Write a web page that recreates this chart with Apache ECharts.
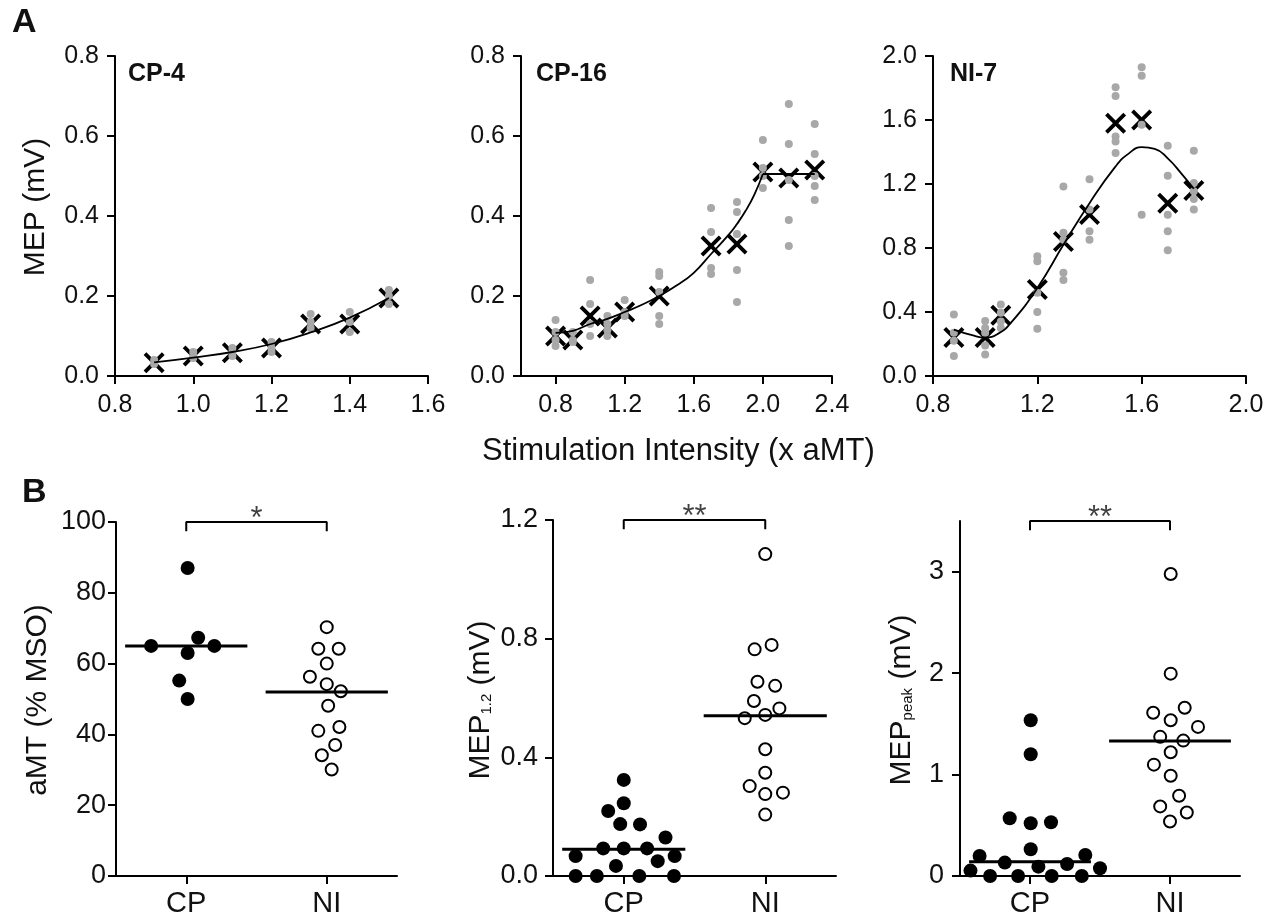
<!DOCTYPE html>
<html><head><meta charset="utf-8">
<script src="https://cdn.jsdelivr.net/npm/echarts/dist/echarts.min.js"></script>
<style>html,body{margin:0;padding:0;background:#fff}#c{width:1270px;height:918px}</style>
</head><body><div id="c"></div>
<script>
// ---------------- Panel A data ----------------
const cp4Intensity = [0.9, 1.0, 1.1, 1.2, 1.3, 1.4, 1.5];
const cp4Mean = [0.033, 0.05, 0.058, 0.07, 0.13, 0.13, 0.195];
const cp4Trials = [[0.03, 0.04], [0.05, 0.06, 0.045], [0.06, 0.07, 0.05], [0.085, 0.06, 0.07], [0.155, 0.135, 0.12], [0.16, 0.135, 0.11], [0.215, 0.18, 0.2]];
const cp4FitX = [0.9, 1.0, 1.1, 1.2, 1.3, 1.4, 1.5];
const cp4FitY = [0.034, 0.046, 0.06, 0.08, 0.109, 0.146, 0.195];

const cp16Intensity = [0.8, 0.9, 1.0, 1.1, 1.2, 1.4, 1.7, 1.85, 2.0, 2.15, 2.3];
const cp16Mean = [0.10, 0.09, 0.15, 0.12, 0.16, 0.2, 0.325, 0.33, 0.51, 0.495, 0.515];
const cp16Trials = [
  [0.14, 0.11, 0.09, 0.075],
  [0.11, 0.09, 0.085],
  [0.24, 0.18, 0.13, 0.1],
  [0.15, 0.13, 0.1, 0.115],
  [0.19, 0.15, 0.16],
  [0.26, 0.25, 0.21, 0.15, 0.13],
  [0.42, 0.36, 0.27, 0.255],
  [0.435, 0.41, 0.355, 0.265, 0.185],
  [0.59, 0.52, 0.5, 0.47],
  [0.68, 0.58, 0.49, 0.39, 0.325],
  [0.63, 0.555, 0.5, 0.475, 0.44]
];
const cp16FitX = [0.8, 0.9, 1.0, 1.1, 1.2, 1.3, 1.4, 1.5, 1.6, 1.7, 1.8, 1.85, 1.9, 1.95, 2.0];
const cp16FitY = [0.108, 0.113, 0.13, 0.143, 0.16, 0.178, 0.2, 0.226, 0.258, 0.305, 0.352, 0.38, 0.413, 0.453, 0.505];
const cp16PlateauX = [2.0, 2.3];
const cp16PlateauY = [0.505, 0.505];

const ni7Intensity = [0.88, 1.0, 1.06, 1.2, 1.3, 1.4, 1.5, 1.6, 1.7, 1.8];
const ni7Mean = [0.24, 0.24, 0.38, 0.54, 0.84, 1.01, 1.58, 1.6, 1.08, 1.16];
const ni7Trials = [
  [0.385, 0.27, 0.22, 0.125],
  [0.343, 0.3, 0.27, 0.19, 0.135],
  [0.447, 0.395, 0.34, 0.3],
  [0.748, 0.717, 0.52, 0.4, 0.295],
  [1.185, 0.895, 0.852, 0.645, 0.6],
  [1.23, 1.04, 0.905, 0.852],
  [1.805, 1.75, 1.497, 1.466, 1.394],
  [1.93, 1.876, 1.57, 1.008],
  [1.439, 1.252, 1.008, 0.905, 0.786],
  [1.408, 1.207, 1.155, 1.107, 1.04]
];
const ni7FitX = [0.88, 0.95, 1.0, 1.05, 1.1, 1.2, 1.3, 1.4, 1.5, 1.55, 1.6, 1.65, 1.7, 1.75, 1.8];
const ni7FitY = [0.29, 0.255, 0.24, 0.265, 0.335, 0.55, 0.82, 1.08, 1.31, 1.39, 1.43, 1.42, 1.36, 1.27, 1.17];

const cp16TickValues = [0.8, 1.2, 1.6, 2.0, 2.4];

// ---------------- Panel B data ----------------
const groupLabels = ['CP', 'NI'];
const amtCP = [87, 65, 67.3, 65, 63, 55.2, 50];
const amtCPJitter = [0.02, -0.5, 0.17, 0.4, 0.02, -0.1, 0.02];
const amtNI = [70.3, 64.2, 64.2, 60, 56.3, 54.2, 52.2, 48.1, 41, 42.1, 37, 34.1, 30.1];
const amtNIJitter = [0, -0.12, 0.17, 0, -0.24, 0, 0.2, 0.02, -0.12, 0.18, 0.12, -0.07, 0.07];
const amtMedian = [65, 52];

const mep12CP = [0.324, 0.245, 0.219, 0.175, 0.174, 0.13, 0.093, 0.093, 0.093, 0.067, 0.067, 0.05, 0.034, 0, 0, 0, 0];
const mep12CPJitter = [0, 0, -0.22, -0.05, 0.23, 0.59, -0.29, 0, 0.33, -0.68, 0.72, 0.48, -0.11, -0.68, -0.38, 0.22, 0.71];
const mep12NI = [1.085, 0.764, 0.779, 0.655, 0.641, 0.59, 0.565, 0.532, 0.543, 0.427, 0.348, 0.303, 0.276, 0.281, 0.207];
const mep12NIJitter = [0, -0.15, 0.09, -0.11, 0.14, -0.16, 0.2, -0.29, 0, 0, 0, -0.22, 0, 0.25, 0];
const mep12Median = [0.09, 0.54];

const mepPeakCP = [1.536, 1.2, 0.57, 0.52, 0.53, 0.264, 0.198, 0.208, 0.132, 0.119, 0.092, 0.053, 0.076, 0, 0, 0, 0];
const mepPeakCPJitter = [0.01, 0.01, -0.29, 0.01, 0.3, 0.01, -0.72, 0.79, -0.36, 0.53, 0.12, -0.85, 1.0, -0.57, -0.17, 0.31, 0.74];
const mepPeakNI = [2.977, 1.995, 1.659, 1.609, 1.536, 1.47, 1.372, 1.335, 1.22, 1.098, 0.989, 0.791, 0.686, 0.626, 0.537];
const mepPeakNIJitter = [0.01, 0.01, 0.21, -0.24, 0.01, 0.4, -0.14, 0.19, 0.01, -0.23, 0.01, 0.13, -0.14, 0.24, 0];
const mepPeakMedian = [0.14, 1.33];

const sigMarks = ['*', '**', '**'];
const bTopValues = [100, 1.2, 3.5];
const mepPeakTickValues = [0, 1, 2, 3];

// ---------------- styling ----------------
const FONT = "'Liberation Sans', Arial, Helvetica, sans-serif";
const INK = '#000';
const GRAY = '#a8a8a8';
const XPATH = 'path://M0,2.6L2.6,0L10,7.4L17.4,0L20,2.6L12.6,10L20,17.4L17.4,20L10,12.6L2.6,20L0,17.4L7.4,10Z';

const grids = [
  { left: 115, top: 56, width: 313, height: 320 },
  { left: 521, top: 56, width: 311, height: 320 },
  { left: 933, top: 56, width: 313, height: 320 },
  { left: 116, top: 522, width: 281, height: 354 },
  { left: 553, top: 520, width: 283, height: 356 },
  { left: 960, top: 521, width: 280, height: 355 }
].map(g => Object.assign({ outerBoundsMode: 'none', containLabel: false }, g));

function mkAxis(gridIndex, o) {
  const label = Object.assign({ color: '#111', fontSize: 25, fontFamily: FONT, margin: 16 }, o.label || {});
  const tick = Object.assign({ show: true, inside: false, length: 8, lineStyle: { color: INK, width: 2 } }, o.tick || {});
  const ax = {
    type: 'value', gridIndex: gridIndex, min: o.min, max: o.max,
    axisLine: { show: true, onZero: false, lineStyle: { color: INK, width: 2 } },
    axisTick: tick, axisLabel: label, splitLine: { show: false }
  };
  if (o.interval !== undefined) ax.interval = o.interval;
  return ax;
}
const f1 = v => v.toFixed(1);
const catFmt = v => groupLabels[(v - 1) / 2];

const xAxes = [
  mkAxis(0, { min: 0.8, max: 1.6, interval: 0.2, label: { formatter: f1, margin: 17 } }),
  mkAxis(1, { min: 0.6, max: 2.4, label: { formatter: f1, margin: 17, customValues: cp16TickValues }, tick: { customValues: cp16TickValues } }),
  mkAxis(2, { min: 0.8, max: 2.0, interval: 0.4, label: { formatter: f1, margin: 17 } }),
  mkAxis(3, { min: 0, max: 4, label: { fontSize: 29, margin: 13, customValues: [1, 3], formatter: catFmt }, tick: { customValues: [1, 3] } }),
  mkAxis(4, { min: 0, max: 4, label: { fontSize: 29, margin: 13, customValues: [1, 3], formatter: catFmt }, tick: { customValues: [1, 3] } }),
  mkAxis(5, { min: 0, max: 4, label: { fontSize: 29, margin: 13, customValues: [1, 3], formatter: catFmt }, tick: { customValues: [1, 3] } })
];
const yAxes = [
  mkAxis(0, { min: 0, max: 0.8, interval: 0.2, label: { formatter: f1 } }),
  mkAxis(1, { min: 0, max: 0.8, interval: 0.2, label: { formatter: f1 } }),
  mkAxis(2, { min: 0, max: 2.0, interval: 0.4, label: { formatter: f1 } }),
  mkAxis(3, { min: 0, max: 100, interval: 20, label: { margin: 10, fontSize: 27 } }),
  mkAxis(4, { min: 0, max: 1.2, interval: 0.4, label: { formatter: f1, margin: 15, fontSize: 27 } }),
  mkAxis(5, { min: 0, max: 3.5, label: { margin: 16, fontSize: 27, customValues: mepPeakTickValues }, tick: { customValues: mepPeakTickValues } })
];

const series = [];
function panelA(idx, xs, means, trials, fits) {
  series.push({
    type: 'scatter', xAxisIndex: idx, yAxisIndex: idx, z: 2, silent: true, clip: false,
    symbol: XPATH, symbolSize: 21, itemStyle: { color: INK, opacity: 1 },
    data: xs.map((x, i) => [x, means[i]])
  });
  const dots = [];
  xs.forEach((x, i) => trials[i].forEach(v => dots.push([x, v])));
  series.push({
    type: 'scatter', xAxisIndex: idx, yAxisIndex: idx, z: 3, silent: true, clip: false,
    symbol: 'circle', symbolSize: 8, itemStyle: { color: GRAY, opacity: 1 }, data: dots
  });
  fits.forEach(f => series.push({
    type: 'line', xAxisIndex: idx, yAxisIndex: idx, z: 4, silent: true, clip: false,
    smooth: f.smooth, showSymbol: false, symbol: 'none',
    lineStyle: { color: INK, width: 1.8 },
    data: f.x.map((x, i) => [x, f.y[i]])
  }));
}
panelA(0, cp4Intensity, cp4Mean, cp4Trials, [{ x: cp4FitX, y: cp4FitY, smooth: true }]);
panelA(1, cp16Intensity, cp16Mean, cp16Trials, [{ x: cp16FitX, y: cp16FitY, smooth: true }, { x: cp16PlateauX, y: cp16PlateauY, smooth: false }]);
panelA(2, ni7Intensity, ni7Mean, ni7Trials, [{ x: ni7FitX, y: ni7FitY, smooth: true }]);

function panelB(idx, cp, cpJ, ni, niJ, med, top, sig) {
  const ai = idx;
  series.push({
    type: 'scatter', xAxisIndex: ai, yAxisIndex: ai, z: 3, silent: true, clip: false,
    symbol: 'circle', symbolSize: 14, itemStyle: { color: INK, opacity: 1 },
    data: cp.map((v, i) => [1 + cpJ[i], v])
  });
  series.push({
    type: 'scatter', xAxisIndex: ai, yAxisIndex: ai, z: 3, silent: true, clip: false,
    symbol: 'circle', symbolSize: 12, itemStyle: { color: '#fff', borderColor: INK, borderWidth: 2, opacity: 1 },
    data: ni.map((v, i) => [3 + niJ[i], v])
  });
  [1, 3].forEach((c, k) => series.push({
    type: 'line', xAxisIndex: ai, yAxisIndex: ai, z: 5, silent: true, clip: false,
    showSymbol: false, symbol: 'none', lineStyle: { color: INK, width: 3 },
    data: [[c - 0.87, med[k]], [c + 0.87, med[k]]]
  }));
  const drop = top * 0.026;
  series.push({
    type: 'line', xAxisIndex: ai, yAxisIndex: ai, z: 5, silent: true, clip: false,
    showSymbol: false, symbol: 'none', lineStyle: { color: INK, width: 2 },
    data: [[1, top - drop], [1, top], [3, top], [3, top - drop]]
  });
  series.push({
    type: 'scatter', xAxisIndex: ai, yAxisIndex: ai, z: 6, silent: true, clip: false,
    symbolSize: 1, itemStyle: { color: 'rgba(0,0,0,0)' },
    label: { show: true, position: 'inside', offset: [0, -3], formatter: sig, color: '#111', fontSize: 31, fontFamily: FONT },
    data: [[2, top]]
  });
}
panelB(3, amtCP, amtCPJitter, amtNI, amtNIJitter, amtMedian, bTopValues[0], sigMarks[0]);
panelB(4, mep12CP, mep12CPJitter, mep12NI, mep12NIJitter, mep12Median, bTopValues[1], sigMarks[1]);
panelB(5, mepPeakCP, mepPeakCPJitter, mepPeakNI, mepPeakNIJitter, mepPeakMedian, bTopValues[2], sigMarks[2]);

function txt(x, y, text, size, opts) {
  opts = opts || {};
  return {
    type: 'text', x: x, y: y, rotation: opts.rotation || 0, silent: true,
    style: Object.assign({
      text: text, x: 0, y: 0, fill: '#111',
      font: (opts.bold ? 'bold ' : '') + size + 'px ' + FONT,
      align: opts.align || 'left', verticalAlign: 'middle'
    }, opts.style || {})
  };
}
function subLabel(x, y, main, sub) {
  return {
    type: 'text', x: x, y: y, rotation: Math.PI / 2, silent: true,
    style: {
      text: '{m|' + main + '}{s|' + sub + '}{m| (mV)}', x: 0, y: 0, fill: '#111',
      align: 'center', verticalAlign: 'middle',
      rich: {
        m: { fontSize: 30, fontFamily: FONT, lineHeight: 28, verticalAlign: 'top', fill: '#111', color: '#111' },
        s: { fontSize: 15, fontFamily: FONT, lineHeight: 15, padding: [22, 0, 0, 0], verticalAlign: 'bottom', fill: '#111', color: '#111' }
      }
    }
  };
}

const graphic = [
  txt(12, 23, 'A', 34, { bold: true }),
  txt(22, 493, 'B', 34, { bold: true }),
  txt(128, 74, 'CP-4', 25, { bold: true }),
  txt(536, 74, 'CP-16', 25, { bold: true }),
  txt(950, 74, 'NI-7', 25, { bold: true }),
  txt(36, 207, 'MEP (mV)', 30, { rotation: Math.PI / 2, align: 'center' }),
  txt(482, 451, 'Stimulation Intensity (x aMT)', 31),
  txt(38, 700, 'aMT (% MSO)', 30, { rotation: Math.PI / 2, align: 'center' }),
  subLabel(480, 700, 'MEP', '1.2'),
  subLabel(901, 700, 'MEP', 'peak')
];

const chart = echarts.init(document.getElementById('c'), null, { renderer: 'canvas' });
chart.setOption({
  animation: false,
  backgroundColor: '#fff',
  textStyle: { fontFamily: FONT },
  grid: grids,
  xAxis: xAxes,
  yAxis: yAxes,
  series: series,
  graphic: graphic
});
</script></body></html>
